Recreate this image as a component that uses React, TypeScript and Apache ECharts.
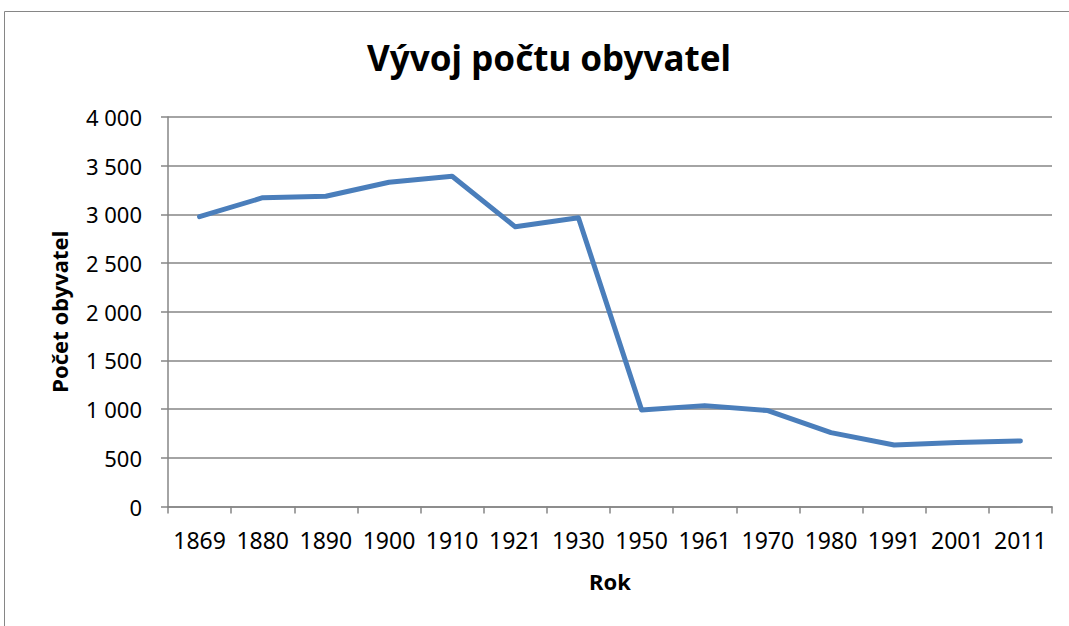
import React, { useEffect, useRef } from "react";
import * as echarts from "echarts";

const years = ["1869", "1880", "1890", "1900", "1910", "1921", "1930", "1950", "1961", "1970", "1980", "1991", "2001", "2011"];
const population = [2976, 3171, 3186, 3330, 3391, 2872, 2966, 992, 1036, 985, 759, 632, 656, 673];

const titleText = "Vývoj počtu obyvatel";
const xName = "Rok";
const yName = "Počet obyvatel";

export default function App() {
  const ref = useRef<HTMLDivElement>(null);
  useEffect(() => {
    if (!ref.current) return;
    const chart = echarts.init(ref.current, undefined, { renderer: "svg" });
    const font = "'Noto Sans', 'Open Sans', sans-serif";
    chart.setOption({
      animation: false,
      backgroundColor: "#ffffff",
      textStyle: { fontFamily: font },
      title: {
        text: titleText,
        left: 544,
        top: 35,
        textAlign: "center",
        textStyle: { fontFamily: font, fontWeight: "bold", fontSize: 35, color: "#000" },
      },
      graphic: [
        {
          type: "rect",
          shape: { x: 4.5, y: 11.5, width: 1200, height: 800 },
          style: { fill: "none", stroke: "#868686", lineWidth: 1 },
          silent: true,
        },
      ],
      grid: { left: 168, right: 17, top: 117, bottom: 119.5, containLabel: false },
      xAxis: {
        type: "category",
        data: years,
        boundaryGap: true,
        name: xName,
        nameLocation: "middle",
        nameGap: 63,
        nameTextStyle: { fontFamily: font, fontWeight: "bold", fontSize: 22, color: "#000" },
        axisLine: { lineStyle: { color: "#868686", width: 1.5 } },
        axisTick: { show: true, alignWithLabel: false, length: 7, lineStyle: { color: "#868686", width: 1.5 } },
        axisLabel: { margin: 22, fontSize: 23, color: "#000", fontFamily: font, interval: 0 },
        splitLine: { show: false },
      },
      yAxis: {
        type: "value",
        min: 0,
        max: 4000,
        interval: 500,
        name: yName,
        nameLocation: "middle",
        nameGap: 98,
        nameTextStyle: { fontFamily: font, fontWeight: "bold", fontSize: 22, color: "#000" },
        axisLine: { show: true, lineStyle: { color: "#868686", width: 1.5 } },
        axisTick: { show: true, length: 7, lineStyle: { color: "#868686", width: 1.5 } },
        axisLabel: {
          margin: 26,
          fontSize: 22,
          color: "#000",
          fontFamily: font,
          formatter: (v: number) => String(v).replace(/\B(?=(\d{3})+(?!\d))/g, " "),
        },
        splitLine: { show: true, lineStyle: { color: "#868686", width: 1.5 } },
      },
      series: [
        {
          type: "line",
          data: population,
          symbol: "none",
          lineStyle: { color: "#4a7ebb", width: 5, cap: "round", join: "round" },
          itemStyle: { color: "#4a7ebb" },
        },
      ],
    });
    return () => chart.dispose();
  }, []);
  return <div ref={ref} style={{ position: "fixed", left: 0, top: 0, width: 1069, height: 626 }} />;
}
